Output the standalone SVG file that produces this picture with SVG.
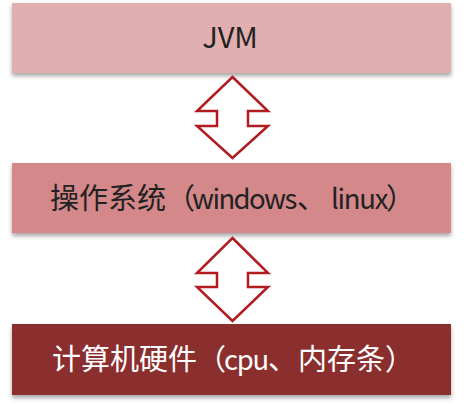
<svg xmlns="http://www.w3.org/2000/svg" width="471" height="404" viewBox="0 0 471 404">
<defs>
<filter id="sh" x="-5%" y="-20%" width="110%" height="150%">
<feDropShadow dx="0" dy="3" stdDeviation="2" flood-color="#000" flood-opacity="0.35"/>
</filter>
</defs>
<style>
.lbl{font-family:"Noto Sans CJK SC","Noto Sans",sans-serif;font-size:29px}
.lat{font-size:27.5px;letter-spacing:-1.3px}
.arrow{fill:#fff;stroke:#B01C20;stroke-width:2.5;stroke-linejoin:miter}
</style>
<rect width="471" height="404" fill="#fff"/>
<g id="jvm">
<rect x="12" y="3" width="439" height="70" fill="#E2AFB0" filter="url(#sh)"/>
<text class="lbl" x="230" y="48" fill="#222" font-size="24" text-anchor="middle">JVM</text>
</g>
<g id="os">
<rect x="12" y="163" width="439" height="70" fill="#D4888A" filter="url(#sh)"/>
<text class="lbl" y="209" fill="#222"><tspan x="50">操作系统（</tspan><tspan class="lat" x="192" style="letter-spacing:-1.6px">windows</tspan><tspan x="297">、</tspan><tspan class="lat" x="331">linux</tspan><tspan x="386">）</tspan></text>
</g>
<g id="hw">
<rect x="12" y="324" width="439" height="71" fill="#8B2E2F" filter="url(#sh)"/>
<text class="lbl" y="370" fill="#fff"><tspan x="52">计算机硬件（</tspan><tspan class="lat" x="224">cpu</tspan><tspan x="268">、</tspan><tspan x="298">内存条</tspan><tspan x="385">）</tspan></text>
</g>
<g id="connectors">
<polygon class="arrow" points="232.5,77 268,111 248,111 248,126 268,126 232.5,158 197,126 217,126 217,111 197,111"/>
<polygon class="arrow" points="232.5,238 268,273 248,273 248,287 268,287 232.5,321 197,287 217,287 217,273 197,273"/>
</g>
</svg>
